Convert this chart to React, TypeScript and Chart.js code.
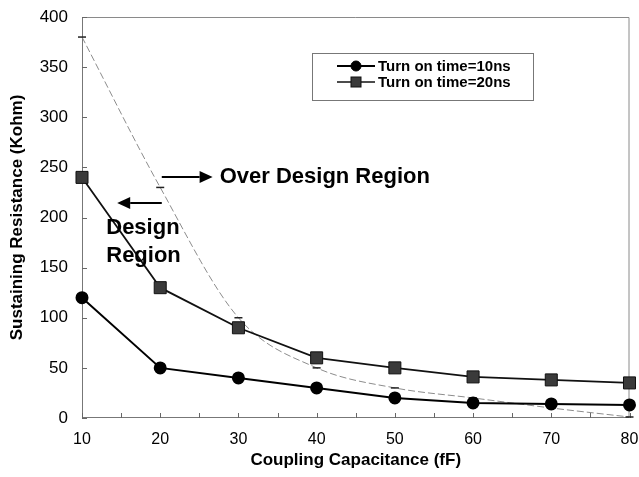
import React, { useEffect, useRef } from "react";
import { Chart, registerables } from "chart.js";

Chart.register(...registerables);

const capacitance = [10, 20, 30, 40, 50, 60, 70, 80];
const turnOn10ns = [120, 50, 40, 30, 20, 15, 14, 13];
const turnOn20ns = [240, 130, 90, 60, 50, 41, 38, 35];
const boundary = [380, 230, 100, 50, 30, 20, 10, 1];
const legendLabels = ["Turn on time=10ns", "Turn on time=20ns"];
const yTicks = [0, 50, 100, 150, 200, 250, 300, 350, 400];

const FONT = "'Liberation Sans', Arial, sans-serif";

const pts = (ys: number[]) => capacitance.map((x, i) => ({ x, y: ys[i] }));

const decorPlugin = {
  id: "decor",
  beforeDatasetsDraw(chart: any) {
    const { ctx, chartArea: a, scales } = chart;
    const xs = scales.x;
    const ys = scales.y;
    ctx.save();
    ctx.strokeStyle = "#8a8a8a";
    ctx.lineWidth = 1;
    ctx.beginPath();
    ctx.moveTo(a.left + 0.5, a.top + 0.5);
    ctx.lineTo(a.right - 0.5, a.top + 0.5);
    ctx.lineTo(a.right - 0.5, a.bottom - 0.5);
    ctx.stroke();
    ctx.strokeStyle = "#777";
    ctx.beginPath();
    ctx.moveTo(a.left + 0.5, a.top + 0.5);
    ctx.lineTo(a.left + 0.5, a.bottom - 0.5);
    ctx.lineTo(a.right - 0.5, a.bottom - 0.5);
    ctx.stroke();
    ctx.strokeStyle = "#666";
    for (let v = 10; v <= 80; v += 5) {
      const px = Math.round(xs.getPixelForValue(v)) + 0.5;
      ctx.beginPath();
      ctx.moveTo(px, a.bottom);
      ctx.lineTo(px, a.bottom - 5);
      ctx.stroke();
    }
    for (const v of yTicks) {
      const py = Math.round(ys.getPixelForValue(v)) + 0.5;
      ctx.beginPath();
      ctx.moveTo(a.left, py);
      ctx.lineTo(a.left + 5, py);
      ctx.stroke();
    }
    ctx.restore();
  },
  afterDatasetsDraw(chart: any) {
    const { ctx, chartArea: a, scales } = chart;
    const xs = scales.x;
    const ys = scales.y;
    const X = (v: number) => xs.getPixelForValue(v);
    const Y = (v: number) => ys.getPixelForValue(v);
    ctx.save();
    ctx.fillStyle = "#000";
    ctx.strokeStyle = "#000";
    ctx.font = `bold 22px ${FONT}`;
    ctx.textBaseline = "middle";
    ctx.textAlign = "left";
    ctx.fillText("Over Design Region", X(27.6), Y(240.5));
    ctx.fillText("Design", X(13.1), Y(189.5));
    ctx.fillText("Region", X(13.1), Y(161.5));

    const arrow = (x1: number, x2: number, y: number) => {
      const dir = Math.sign(x2 - x1);
      const headLen = 13;
      const headHalf = 6;
      ctx.lineWidth = 2;
      ctx.beginPath();
      ctx.moveTo(x1, y);
      ctx.lineTo(x2 - dir * headLen, y);
      ctx.stroke();
      ctx.beginPath();
      ctx.moveTo(x2, y);
      ctx.lineTo(x2 - dir * headLen, y - headHalf);
      ctx.lineTo(x2 - dir * headLen, y + headHalf);
      ctx.closePath();
      ctx.fill();
    };
    arrow(X(20.2), X(26.7), Math.round(Y(240.5)));
    arrow(X(20.2), X(14.5), Math.round(Y(214.5)));

    const lx = a.left + 230;
    const ly = a.top + 36;
    const lw = 221;
    const lh = 47;
    ctx.fillStyle = "#fff";
    ctx.fillRect(lx, ly, lw, lh);
    ctx.strokeStyle = "#777";
    ctx.lineWidth = 1;
    ctx.strokeRect(lx + 0.5, ly + 0.5, lw, lh);
    const rows = [
      { y: ly + 13, ds: chart.data.datasets[0] },
      { y: ly + 29, ds: chart.data.datasets[1] },
    ];
    rows.forEach((r, i) => {
      const sx1 = lx + 25;
      const sx2 = lx + 63;
      const cx = (sx1 + sx2) / 2;
      ctx.strokeStyle = r.ds.borderColor;
      ctx.lineWidth = i === 0 ? 2 : 1.5;
      ctx.beginPath();
      ctx.moveTo(sx1, r.y);
      ctx.lineTo(sx2, r.y);
      ctx.stroke();
      ctx.fillStyle = r.ds.pointBackgroundColor;
      ctx.strokeStyle = r.ds.pointBorderColor;
      ctx.lineWidth = 1;
      if (i === 0) {
        ctx.beginPath();
        ctx.arc(cx, r.y, 5, 0, Math.PI * 2);
        ctx.fill();
        ctx.stroke();
      } else {
        ctx.fillRect(cx - 5, r.y - 5, 10, 10);
        ctx.strokeRect(cx - 5, r.y - 5, 10, 10);
      }
      ctx.fillStyle = "#000";
      ctx.font = `bold 15px ${FONT}`;
      ctx.textBaseline = "middle";
      ctx.fillText(legendLabels[i], lx + 66, r.y + 1);
    });
    ctx.restore();
  },
};

export default function App() {
  const ref = useRef<HTMLCanvasElement | null>(null);
  useEffect(() => {
    document.body.style.margin = "0";
    const canvas = ref.current!;
    const chart = new Chart(canvas, {
      type: "line",
      data: {
        datasets: [
          {
            label: legendLabels[0],
            data: pts(turnOn10ns),
            borderColor: "#000",
            backgroundColor: "#000",
            pointBackgroundColor: "#000",
            pointBorderColor: "#000",
            borderWidth: 2,
            pointRadius: 5.5,
            pointStyle: "circle",
            tension: 0,
            clip: false,
          },
          {
            label: legendLabels[1],
            data: pts(turnOn20ns),
            borderColor: "#111",
            backgroundColor: "#333",
            pointBackgroundColor: "#3a3a3a",
            pointBorderColor: "#111",
            borderWidth: 1.8,
            pointRadius: 8.5,
            pointBorderWidth: 1,
            pointStyle: "rect",
            tension: 0,
            clip: false,
          },
          {
            label: "boundary",
            data: pts(boundary),
            borderColor: "#8c8c8c",
            borderWidth: 1,
            borderDash: [7, 3],
            cubicInterpolationMode: "monotone",
            pointStyle: "line",
            pointRadius: 4,
            pointBorderColor: "#222",
            pointBorderWidth: 1.5,
            pointBackgroundColor: "#222",
            clip: false,
          },
        ],
      },
      options: {
        animation: false,
        responsive: false,
        devicePixelRatio: 1,
        layout: { padding: { left: 0, right: 8, top: 17, bottom: 0 } },
        plugins: {
          legend: { display: false },
          tooltip: { enabled: false },
        },
        scales: {
          x: {
            type: "linear",
            min: 10,
            max: 80,
            afterFit: (s: any) => {
              s.height = 59;
              s.paddingLeft = 0;
              s.paddingRight = 0;
            },
            ticks: {
              stepSize: 10,
              padding: 12,
              color: "#000",
              font: { family: FONT, size: 16 },
            },
            grid: { display: false, drawTicks: false },
            border: { display: false },
            title: {
              display: true,
              text: "Coupling Capacitance (fF)",
              color: "#000",
              font: { family: FONT, size: 17, weight: "bold" },
              padding: { top: 0, bottom: 6 },
            },
          },
          y: {
            min: 0,
            max: 400,
            afterFit: (s: any) => {
              s.width = 82;
              s.paddingTop = 0;
              s.paddingBottom = 0;
            },
            afterBuildTicks: (s: any) => {
              s.ticks = yTicks.map((v) => ({ value: v }));
            },
            ticks: {
              padding: 14,
              color: "#000",
              font: { family: FONT, size: 17 },
            },
            grid: { display: false, drawTicks: false },
            border: { display: false },
            title: {
              display: true,
              text: "Sustaining Resistance (Kohm)",
              color: "#000",
              font: { family: FONT, size: 17, weight: "bold" },
              padding: { top: 7, bottom: 0 },
            },
          },
        },
      },
      plugins: [decorPlugin],
    } as any);
    return () => chart.destroy();
  }, []);
  return (
    <div style={{ position: "absolute", left: 0, top: 0, width: 639, height: 477, background: "#fff" }}>
      <canvas ref={ref} width={639} height={477} />
    </div>
  );
}
